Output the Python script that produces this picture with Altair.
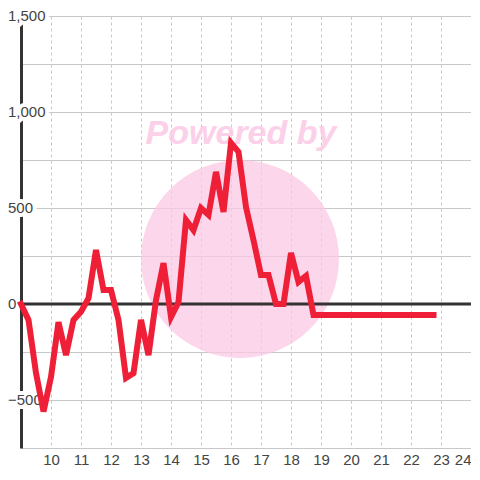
import altair as alt
import pandas as pd

xs = [9.0, 9.25, 9.5, 9.75, 10.0, 10.25, 10.5, 10.75, 11.0, 11.25, 11.5, 11.75,
      12.0, 12.25, 12.5, 12.75, 13.0, 13.25, 13.5, 13.75, 14.0, 14.25, 14.5, 14.75,
      15.0, 15.25, 15.5, 15.75, 16.0, 16.25, 16.5, 16.75, 17.0, 17.25, 17.5, 17.75,
      18.0, 18.25, 18.5, 18.75, 19.0, 19.25, 19.5, 19.75, 20.0, 20.25, 20.5, 20.75,
      21.0, 21.25, 21.5, 21.75, 22.0, 22.25, 22.5, 22.75]
ys = [0, -83, -360, -560, -380, -94, -266, -83, -40, 30, 281, 73,
      73, -83, -385, -360, -83, -266, 20, 213, -68, 10, 437, 385,
      500, 464, 688, 479, 839, 792, 505, 333, 151, 151, 0, 0,
      266, 115, 146, -57, -57, -57, -57, -57, -57, -57, -57, -57,
      -57, -57, -57, -57, -57, -57, -57, -57]

x_ticks = [10, 11, 12, 13, 14, 15, 16, 17, 18, 19, 20, 21, 22, 23, 24]
y_grid = [-750, -500, -250, 0, 250, 500, 750, 1000, 1250, 1500]
y_labels = [-500, 0, 500, 1000, 1500]
zero = [0]

df = pd.DataFrame({"x": xs, "y": ys})

FONT = "Liberation Sans"

xscale = alt.Scale(domain=[9, 24], nice=False, zero=False)
yscale = alt.Scale(domain=[-750, 1500], nice=False)

x_axis = alt.Axis(
    values=x_ticks, grid=True, gridDash=[3, 3], gridColor="#c8c8c8",
    domain=False, ticks=False, labelPadding=4, labelFontSize=15,
    labelColor="#444444", labelFont=FONT, title=None, zindex=0,
    labelFlush=True)
y_axis = alt.Axis(
    values=y_grid, grid=True, gridColor="#c8c8c8", labels=False,
    domain=True, domainColor="#333333", domainWidth=3, ticks=False,
    title=None, zindex=0)

circle = alt.Chart(pd.DataFrame({"a": [0]})).mark_circle(
    size=39204, color="#fbc8e4", opacity=0.75
).encode(x=alt.value(219), y=alt.value(243))

powered = alt.Chart(pd.DataFrame({"a": [0]})).mark_text(
    text="Powered by", font=FONT, fontSize=34, fontWeight="bold",
    fontStyle="italic", color="#fbc8e4", opacity=0.85
).encode(x=alt.value(220), y=alt.value(118))

zero_rule = alt.Chart(pd.DataFrame({"v": zero})).mark_rule(
    color="#333333", strokeWidth=3
).encode(y=alt.Y("v:Q", scale=yscale, axis=y_axis))

lab_df = pd.DataFrame({"v": y_labels})
label_halo = alt.Chart(lab_df).mark_text(
    align="left", baseline="middle", font=FONT, fontSize=15,
    color="white", stroke="white", strokeWidth=8, strokeJoin="round"
).encode(
    x=alt.value(-13),
    y=alt.Y("v:Q", scale=yscale, axis=y_axis),
    text=alt.Text("v:Q", format=","),
)
label_text = alt.Chart(lab_df).mark_text(
    align="left", baseline="middle", font=FONT, fontSize=15, color="#444444"
).encode(
    x=alt.value(-13),
    y=alt.Y("v:Q", scale=yscale, axis=y_axis),
    text=alt.Text("v:Q", format=","),
)

line = alt.Chart(df).mark_line(
    color="#ee1f36", strokeWidth=6, strokeCap="square", strokeJoin="miter"
).encode(
    x=alt.X("x:Q", scale=xscale, axis=x_axis),
    y=alt.Y("y:Q", scale=yscale, axis=y_axis),
)

chart = alt.layer(circle, powered, zero_rule, label_halo, label_text, line).properties(
    width=450, height=432,
    autosize=alt.AutoSizeParams(type="none"),
    padding={"left": 13, "top": 8, "right": 0, "bottom": 24},
    background="white",
).configure_view(stroke=None)

chart.save("out.html", embed_options={"renderer": "svg", "actions": False})
